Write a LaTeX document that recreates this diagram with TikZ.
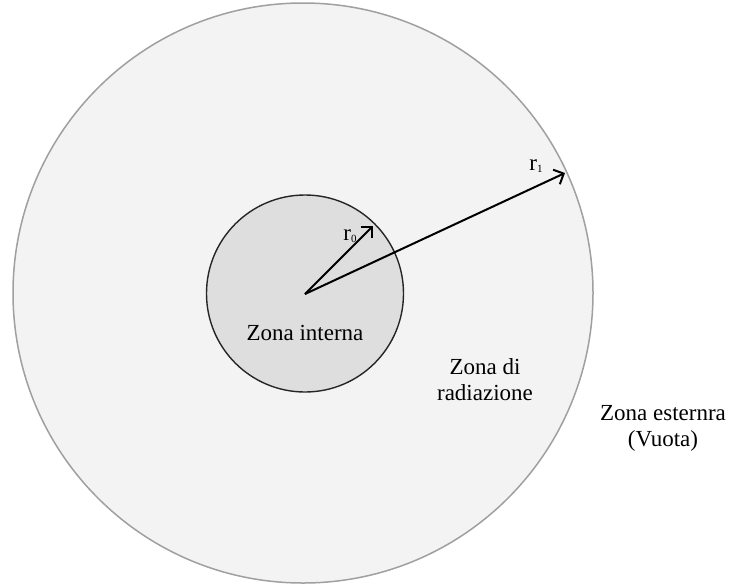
\documentclass[tikz,border=0pt]{standalone}
\usepackage{fontspec}
\setmainfont{Liberation Serif}
\usetikzlibrary{arrows.meta}
\definecolor{outerfill}{HTML}{F3F3F3}
\definecolor{outerline}{HTML}{A0A0A0}
\definecolor{innerfill}{HTML}{DEDEDE}
\begin{document}
\begin{tikzpicture}[x=1pt,y=-1pt,
  radius/.style={line width=2pt,-{Straight Barb[length=8pt,width=16pt,line width=2pt]}},
  lbl/.style={font=\fontsize{23}{26}\selectfont,align=center,inner sep=0pt},
  rlbl/.style={font=\fontsize{23}{24}\selectfont,inner sep=0pt}]
\useasboundingbox (0,0) rectangle (730,584);
\fill[white] (0,0) rectangle (730,584);
\node[circle,draw=outerline,fill=outerfill,line width=1.5pt,minimum size=580pt,inner sep=0pt] (outer) at (303,293) {};
\node[circle,draw=black!85,fill=innerfill,line width=1.4pt,minimum size=197pt,inner sep=0pt] (inner) at (305,293.5) {};
\coordinate (c) at (305,294);
\coordinate (t0) at (373,226);
\coordinate (t1) at (565,173);
\draw[radius] (c) -- (t0);
\draw[radius] (c) -- (t1);
\node[rlbl] (r0) at (350,236) {r\raisebox{-2pt}{\fontsize{11}{12}\selectfont 0}};
\node[rlbl] (r1) at (536,166) {r\raisebox{-2pt}{\fontsize{11}{12}\selectfont 1}};
\node[lbl] (zi) at (305,333) {Zona interna};
\node[lbl] (zr) at (485,380) {Zona di\\radiazione};
\node[lbl] (ze) at (663,428) {Zona esternra\\(Vuota)};
\end{tikzpicture}
\end{document}
